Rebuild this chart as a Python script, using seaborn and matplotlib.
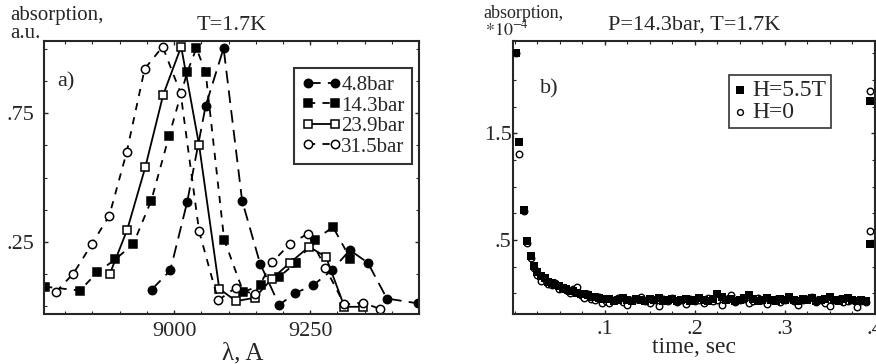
import numpy as np
import pandas as pd
import matplotlib.pyplot as plt
import seaborn as sns
from matplotlib.ticker import MultipleLocator, FixedLocator

# panel a) absorption spectra at several pressures
wl_48 = [8959, 8993, 9024, 9058, 9091, 9125, 9158, 9193, 9223, 9255, 9290, 9323, 9356, 9391, 9449]
ab_48 = [0.065, 0.139, 0.404, 0.778, 1.002, 0.410, 0.166, 0.005, 0.052, 0.081, 0.140, 0.218, 0.169, 0.030, 0.011]

wl_143 = [8763, 8827, 8859, 8892, 8925, 8958, 8991, 9024, 9041, 9058, 9092, 9127, 9160, 9193, 9224, 9258, 9292, 9324]
ab_143 = [0.076, 0.061, 0.132, 0.182, 0.242, 0.410, 0.663, 0.908, 1.002, 0.908, 0.259, 0.056, 0.081, 0.114, 0.169, 0.256, 0.308, 0.184]

wl_239 = [8882, 8914, 8947, 8980, 9013, 9046, 9083, 9114, 9148, 9180, 9213, 9248, 9279, 9313, 9347]
ab_239 = [0.126, 0.298, 0.539, 0.821, 1.008, 0.625, 0.068, 0.020, 0.033, 0.107, 0.169, 0.231, 0.192, -0.002, -0.002]

wl_315 = [8783, 8815, 8849, 8881, 8913, 8946, 8979, 9012, 9046, 9081, 9113, 9148, 9180, 9213, 9246, 9278, 9313, 9347, 9378]
ab_315 = [0.056, 0.127, 0.242, 0.352, 0.599, 0.922, 1.008, 0.828, 0.291, 0.023, 0.072, 0.046, 0.171, 0.242, 0.282, 0.149, 0.007, 0.014, -0.010]

# panel b) relaxation after pulse, P=14.3bar
t_decay = [0.001, 0.005, 0.010, 0.013, 0.018, 0.021, 0.025, 0.029, 0.033, 0.037, 0.041, 0.045, 0.049,
           0.053, 0.057, 0.061, 0.065, 0.069, 0.073, 0.077, 0.081, 0.085, 0.089, 0.093, 0.097, 0.101]
sq_decay = [2.25, 1.42, 0.78, 0.49, 0.35, 0.26, 0.20, 0.16, 0.14, 0.11, 0.10, 0.08, 0.07,
            0.05, 0.04, 0.02, 0.02, 0.00, -0.01, -0.01, -0.02, -0.03, -0.03, -0.04, -0.05, -0.05]
ci_decay = [2.25, 1.31, 0.77, 0.47, 0.33, 0.24, 0.17, 0.12, 0.13, 0.09, 0.08, 0.10, 0.04,
            0.05, 0.03, 0.00, 0.04, 0.06, -0.02, -0.04, -0.01, -0.05, -0.06, -0.03, -0.09, -0.07]

t_plat = [0.105, 0.110, 0.115, 0.120, 0.125, 0.130, 0.135, 0.140, 0.145, 0.150,
          0.155, 0.160, 0.165, 0.170, 0.175, 0.180, 0.185, 0.190, 0.195, 0.200,
          0.205, 0.210, 0.215, 0.220, 0.225, 0.230, 0.235, 0.240, 0.245, 0.250,
          0.255, 0.260, 0.265, 0.270, 0.275, 0.280, 0.285, 0.290, 0.295, 0.300,
          0.305, 0.310, 0.315, 0.320, 0.325, 0.330, 0.335, 0.340, 0.345, 0.350,
          0.355, 0.360, 0.365, 0.370, 0.375, 0.380, 0.385, 0.390]
sq_plat = [-0.05, -0.07, -0.06, -0.04, -0.06, -0.07, -0.05, -0.06, -0.07, -0.05,
           -0.06, -0.04, -0.07, -0.06, -0.05, -0.07, -0.06, -0.05, -0.07, -0.06,
           -0.04, -0.06, -0.07, -0.05, -0.01, -0.03, -0.06, -0.05, -0.07, -0.06,
           -0.04, -0.02, -0.05, -0.07, -0.06, -0.04, -0.06, -0.07, -0.05, -0.06,
           -0.03, -0.06, -0.07, -0.05, -0.06, -0.04, -0.07, -0.06, -0.05, -0.03,
           -0.06, -0.07, -0.05, -0.04, -0.06, -0.07, -0.06, -0.07]
ci_plat = [-0.09, -0.06, -0.04, -0.08, -0.11, -0.06, -0.05, -0.03, -0.07, -0.09,
           -0.06, -0.12, -0.05, -0.07, -0.04, -0.08, -0.06, -0.10, -0.05, -0.07,
           -0.06, -0.09, -0.04, -0.07, -0.06, -0.11, -0.05, -0.02, -0.08, -0.06,
           -0.05, -0.09, -0.07, -0.04, -0.06, -0.10, -0.06, -0.05, -0.08, -0.06,
           -0.04, -0.07, -0.11, -0.06, -0.05, -0.03, -0.08, -0.06, -0.09, -0.12,
           -0.06, -0.05, -0.08, -0.07, -0.06, -0.13, -0.07, -0.08]

# next pulse at the right edge
t_pulse = [0.395, 0.395]
sq_pulse = [1.80, 0.46]
ci_pulse = [1.90, 0.58]

sns.set_theme(style="ticks")
plt.rcParams['font.family'] = ['Liberation Serif', 'DejaVu Serif']
plt.rcParams['mathtext.fontset'] = 'stix'

fig = plt.figure(figsize=(8.76, 3.64), dpi=100)
ax1 = fig.add_axes([44/876, 1-314/364, 375/876, 273/364])
ax2 = fig.add_axes([513/876, 1-314/364, 362/876, 273/364])

# ---- panel a
styles = [
    (wl_48, ab_48, "4.8bar", dict(marker='o', mfc='black', ls=(0, (7, 4)))),
    (wl_143, ab_143, "14.3bar", dict(marker='s', mfc='black', ls=(0, (4, 4)))),
    (wl_239, ab_239, "23.9bar", dict(marker='s', mfc='white', ls='-')),
    (wl_315, ab_315, "31.5bar", dict(marker='o', mfc='white', ls=(0, (4, 4)))),
]
for wl, ab, lab, st in styles:
    d = pd.DataFrame({'wl': wl, 'ab': ab})
    sns.lineplot(data=d, x='wl', y='ab', ax=ax1, sort=False, estimator=None, color='black',
                 linestyle=st['ls'], marker=st['marker'], markerfacecolor=st['mfc'],
                 markeredgecolor='black', markersize=6, markeredgewidth=1.1, lw=1.3,
                 label=lab, clip_on=True)
# small dot in the centre of the open circles
sns.scatterplot(x=wl_315, y=ab_315, ax=ax1, color='black', s=3, linewidth=0, legend=False)

ax1.set_xlim(8761, 9450)
ax1.set_ylim(-0.03, 1.03)
ax1.xaxis.set_major_locator(FixedLocator([9000, 9250]))
ax1.xaxis.set_minor_locator(MultipleLocator(50))
ax1.yaxis.set_major_locator(FixedLocator([0.25, 0.75]))
ax1.yaxis.set_minor_locator(MultipleLocator(0.125))
ax1.set_yticklabels(['.25', '.75'])
ax1.set_xlabel("λ, A", fontsize=18)
ax1.xaxis.set_label_coords(0.53, -0.105)
ax1.set_ylabel("")
ax1.set_title("T=1.7K", fontsize=16, pad=8)
ax1.text(0.035, 0.85, "a)", transform=ax1.transAxes, fontsize=16, va='center')
leg1 = ax1.legend(loc='upper right', bbox_to_anchor=(0.981, 0.901), borderaxespad=0,
                  fontsize=15, frameon=True, fancybox=False, edgecolor='black',
                  handlelength=1.9, handletextpad=0.0, labelspacing=0.05,
                  numpoints=2, borderpad=0.35)
leg1.get_frame().set_linewidth(1.5)

fig.text(10/876, 1-20/364, "absorption,", fontsize=15, va='baseline')
fig.text(10/876, 1-38/364, "a.u.", fontsize=15, va='baseline')

# ---- panel b
sq = pd.DataFrame({'t': t_decay + t_plat + t_pulse, 'a': sq_decay + sq_plat + sq_pulse})
ci = pd.DataFrame({'t': t_decay + t_plat + t_pulse, 'a': ci_decay + ci_plat + ci_pulse})
sns.scatterplot(data=sq, x='t', y='a', ax=ax2, marker='s', color='black', s=34,
                linewidth=0, label="H=5.5T", zorder=3)
sns.scatterplot(data=ci, x='t', y='a', ax=ax2, marker='o', facecolor='white',
                edgecolor='black', s=22, linewidth=1.0, label="H=0", zorder=2)

ax2.set_xlim(-0.002, 0.400)
ax2.set_ylim(-0.194, 2.365)
ax2.xaxis.set_major_locator(FixedLocator([0.1, 0.2, 0.3, 0.4]))
ax2.xaxis.set_minor_locator(MultipleLocator(0.025))
ax2.set_xticklabels(['.1', '.2', '.3', '.4'])
ax2.yaxis.set_major_locator(FixedLocator([0.5, 1.5]))
ax2.yaxis.set_minor_locator(MultipleLocator(0.25))
ax2.set_yticklabels(['.5', '1.5'])
ax2.set_xlabel("time, sec", fontsize=17)
ax2.xaxis.set_label_coords(0.50, -0.085)
ax2.set_ylabel("")
ax2.set_title("P=14.3bar, T=1.7K", fontsize=16, pad=8)
ax2.text(0.075, 0.825, "b)", transform=ax2.transAxes, fontsize=16, va='center')
leg2 = ax2.legend(loc='upper right', bbox_to_anchor=(0.878, 0.875), borderaxespad=0,
                  fontsize=17, frameon=True, fancybox=False, edgecolor='black',
                  handlelength=0.6, handletextpad=0.2, labelspacing=0.0,
                  borderpad=0.2, markerscale=0.9)
leg2.get_frame().set_linewidth(1.2)

fig.text(483/876, 1-18/364, "absorption,", fontsize=13, va='baseline')
fig.text(485/876, 1-35/364, r"$*10^{-4}$", fontsize=13, va='baseline')

for ax in (ax1, ax2):
    for sp in ax.spines.values():
        sp.set_linewidth(1.5)
        sp.set_visible(True)
    ax.tick_params(which='both', direction='in', top=True, right=True, labelsize=16)
    ax.tick_params(which='major', length=3, width=1)
    ax.tick_params(which='minor', length=2.5, width=0.8)
ax1.tick_params(axis='y', pad=7)
ax1.tick_params(axis='x', pad=6)
ax2.tick_params(axis='y', pad=1)
ax2.tick_params(axis='x', pad=4)

fig.savefig("out.png", dpi=100)
